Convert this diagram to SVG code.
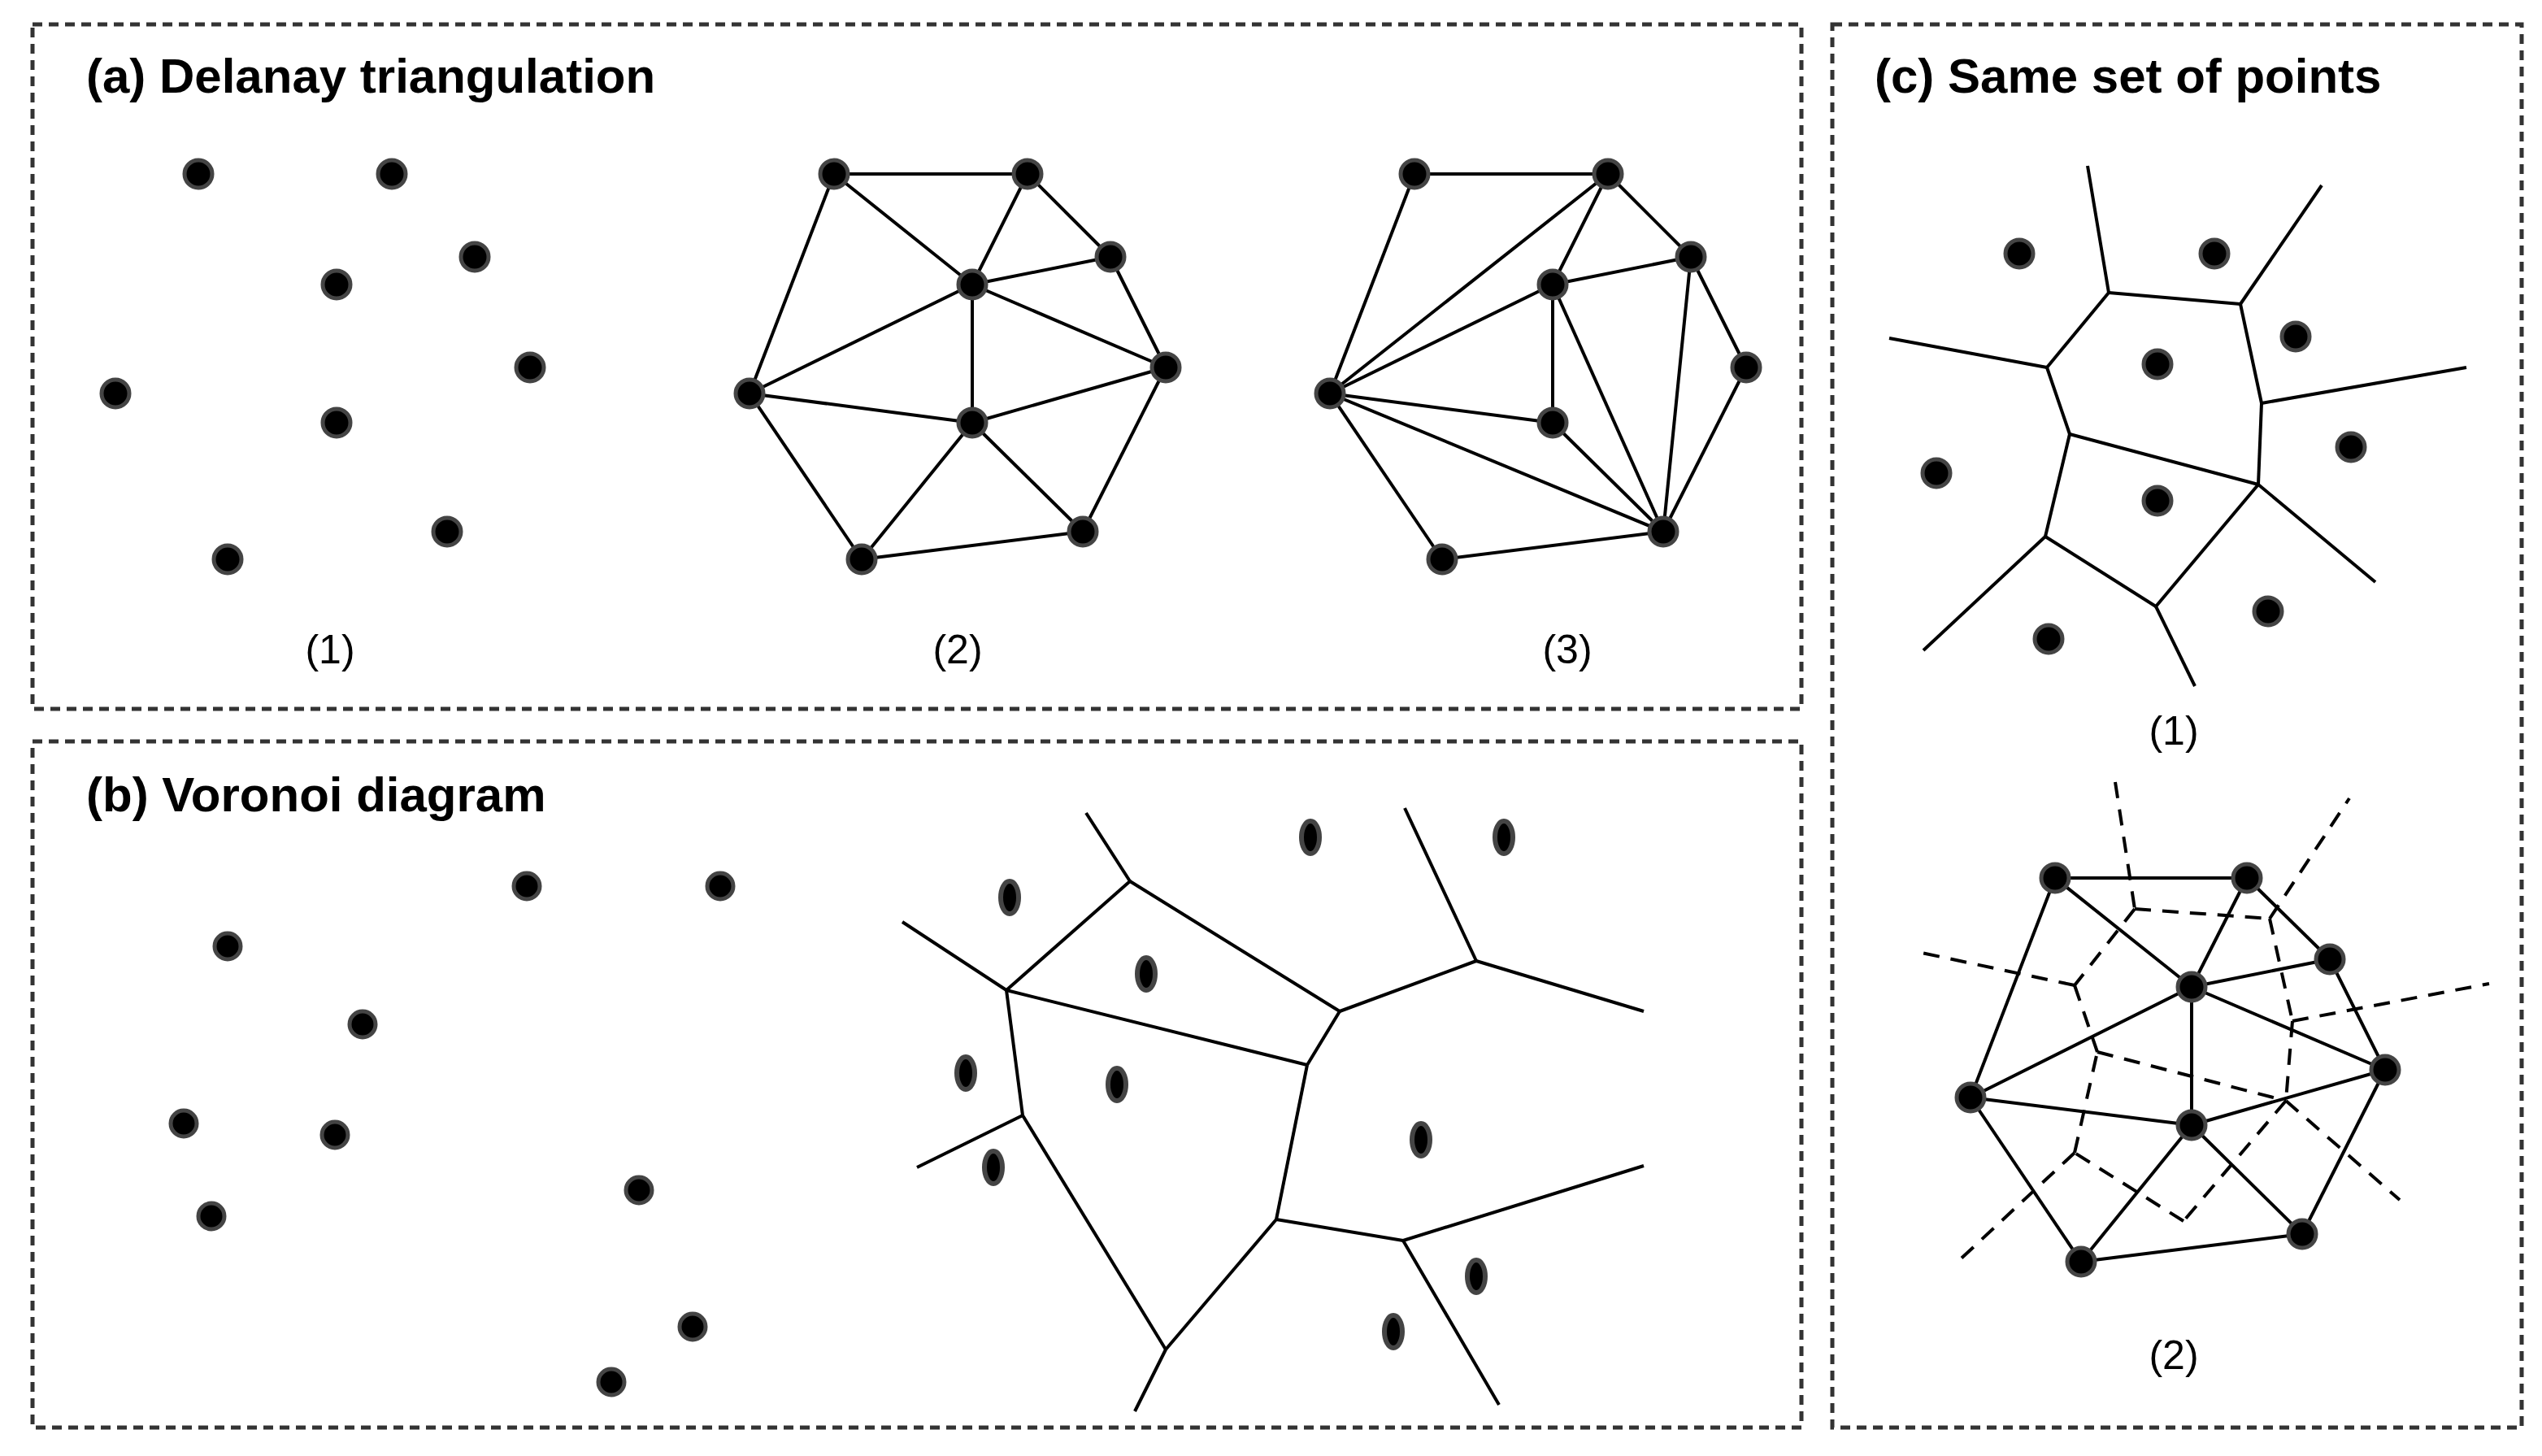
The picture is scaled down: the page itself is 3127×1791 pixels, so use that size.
<svg xmlns="http://www.w3.org/2000/svg" width="3127" height="1791" viewBox="0 0 3127 1791">
<style>
.box{fill:none;stroke:#333;stroke-width:2.5;stroke-dasharray:6 4}
.t{font-family:"Liberation Sans",Arial,sans-serif;font-weight:bold;font-size:30px;fill:#000}
.l{font-family:"Liberation Sans",Arial,sans-serif;font-size:25px;fill:#000;text-anchor:middle}
.e line{stroke:#000;stroke-width:2;fill:none}
.d line{stroke:#000;stroke-width:2;stroke-dasharray:10 7}
.p circle{fill:#000;stroke:#444;stroke-width:2.5}
.p ellipse{fill:#000;stroke:#444;stroke-width:3}
</style>
<rect width="3127" height="1791" fill="#fff"/>
<g transform="scale(2)">
<g id="panel-a">
<rect class="box" x="20" y="15" width="1088" height="421"/>
<text class="t" x="53" y="57">(a) Delanay triangulation</text>
<text class="l" x="203" y="408">(1)</text>
<text class="l" x="589" y="408">(2)</text>
<text class="l" x="964" y="408">(3)</text>
</g>
<g id="panel-b">
<rect class="box" x="20" y="456" width="1088" height="422"/>
<text class="t" x="53" y="499">(b) Voronoi diagram</text>
</g>
<g id="panel-c">
<rect class="box" x="1127" y="15" width="424" height="863"/>
<text class="t" x="1153" y="57">(c) Same set of points</text>
<text class="l" x="1337" y="458">(1)</text>
<text class="l" x="1337" y="842">(2)</text>
</g>
<g id="connectors">
<g class="e">
<line x1="513" y1="107" x2="632" y2="107"/><line x1="513" y1="107" x2="461" y2="242"/><line x1="513" y1="107" x2="598" y2="175"/>
<line x1="632" y1="107" x2="598" y2="175"/><line x1="632" y1="107" x2="683" y2="158"/><line x1="598" y1="175" x2="683" y2="158"/>
<line x1="683" y1="158" x2="717" y2="226"/><line x1="598" y1="175" x2="717" y2="226"/><line x1="598" y1="175" x2="461" y2="242"/>
<line x1="598" y1="175" x2="598" y2="260"/><line x1="461" y1="242" x2="598" y2="260"/><line x1="598" y1="260" x2="717" y2="226"/>
<line x1="717" y1="226" x2="666" y2="327"/><line x1="598" y1="260" x2="666" y2="327"/><line x1="598" y1="260" x2="530" y2="344"/>
<line x1="461" y1="242" x2="530" y2="344"/><line x1="530" y1="344" x2="666" y2="327"/>
<line x1="870" y1="107" x2="989" y2="107"/><line x1="870" y1="107" x2="818" y2="242"/><line x1="989" y1="107" x2="818" y2="242"/>
<line x1="989" y1="107" x2="955" y2="175"/><line x1="989" y1="107" x2="1040" y2="158"/><line x1="955" y1="175" x2="1040" y2="158"/>
<line x1="955" y1="175" x2="818" y2="242"/><line x1="955" y1="175" x2="955" y2="260"/><line x1="955" y1="175" x2="1023" y2="327"/>
<line x1="1040" y1="158" x2="1023" y2="327"/><line x1="1040" y1="158" x2="1074" y2="226"/><line x1="1074" y1="226" x2="1023" y2="327"/>
<line x1="818" y1="242" x2="955" y2="260"/><line x1="955" y1="260" x2="1023" y2="327"/><line x1="818" y1="242" x2="1023" y2="327"/>
<line x1="818" y1="242" x2="887" y2="344"/><line x1="887" y1="344" x2="1023" y2="327"/>
<line x1="695" y1="542" x2="668" y2="500"/><line x1="695" y1="542" x2="619" y2="609"/><line x1="695" y1="542" x2="824" y2="622"/>
<line x1="619" y1="609" x2="555" y2="567"/><line x1="619" y1="609" x2="804" y2="655"/><line x1="619" y1="609" x2="629" y2="686"/>
<line x1="824" y1="622" x2="804" y2="655"/><line x1="824" y1="622" x2="908" y2="591"/><line x1="908" y1="591" x2="864" y2="497"/>
<line x1="908" y1="591" x2="1011" y2="622"/><line x1="804" y1="655" x2="785" y2="750"/><line x1="629" y1="686" x2="564" y2="718"/>
<line x1="629" y1="686" x2="717" y2="830"/><line x1="785" y1="750" x2="717" y2="830"/><line x1="785" y1="750" x2="863" y2="763"/>
<line x1="863" y1="763" x2="1011" y2="717"/><line x1="863" y1="763" x2="922" y2="864"/><line x1="717" y1="830" x2="698" y2="868"/>
<line x1="1284" y1="102" x2="1297" y2="180"/><line x1="1297" y1="180" x2="1378" y2="187"/><line x1="1378" y1="187" x2="1428" y2="114"/>
<line x1="1378" y1="187" x2="1391" y2="248"/><line x1="1391" y1="248" x2="1517" y2="226"/><line x1="1391" y1="248" x2="1389" y2="298"/>
<line x1="1297" y1="180" x2="1259" y2="226"/><line x1="1162" y1="208" x2="1259" y2="226"/><line x1="1259" y1="226" x2="1273" y2="267"/>
<line x1="1273" y1="267" x2="1389" y2="298"/><line x1="1273" y1="267" x2="1258" y2="330"/><line x1="1258" y1="330" x2="1183" y2="400"/>
<line x1="1258" y1="330" x2="1326" y2="373"/><line x1="1326" y1="373" x2="1389" y2="298"/><line x1="1326" y1="373" x2="1350" y2="422"/>
<line x1="1389" y1="298" x2="1461" y2="358"/>
<line x1="1264" y1="540" x2="1382" y2="540"/><line x1="1264" y1="540" x2="1212" y2="675"/><line x1="1264" y1="540" x2="1348" y2="607"/>
<line x1="1382" y1="540" x2="1348" y2="607"/><line x1="1382" y1="540" x2="1433" y2="590"/><line x1="1348" y1="607" x2="1433" y2="590"/>
<line x1="1433" y1="590" x2="1467" y2="658"/><line x1="1348" y1="607" x2="1467" y2="658"/><line x1="1348" y1="607" x2="1212" y2="675"/>
<line x1="1348" y1="607" x2="1348" y2="692"/><line x1="1212" y1="675" x2="1348" y2="692"/><line x1="1348" y1="692" x2="1467" y2="658"/>
<line x1="1467" y1="658" x2="1416" y2="759"/><line x1="1348" y1="692" x2="1416" y2="759"/><line x1="1348" y1="692" x2="1280" y2="776"/>
<line x1="1212" y1="675" x2="1280" y2="776"/><line x1="1280" y1="776" x2="1416" y2="759"/>
</g>
<g class="d">
<line x1="1301" y1="481" x2="1313" y2="559"/><line x1="1313" y1="559" x2="1396" y2="565"/><line x1="1396" y1="565" x2="1445" y2="491"/>
<line x1="1313" y1="559" x2="1276" y2="606"/><line x1="1276" y1="606" x2="1182" y2="586"/><line x1="1276" y1="606" x2="1290" y2="647"/>
<line x1="1290" y1="647" x2="1406" y2="677"/><line x1="1406" y1="677" x2="1476" y2="738"/><line x1="1406" y1="677" x2="1343" y2="751"/>
<line x1="1343" y1="751" x2="1276" y2="709"/><line x1="1276" y1="709" x2="1290" y2="647"/><line x1="1276" y1="709" x2="1202" y2="778"/>
<line x1="1396" y1="565" x2="1410" y2="628"/><line x1="1410" y1="628" x2="1406" y2="677"/><line x1="1410" y1="628" x2="1531" y2="605"/>
</g>
</g>
<g id="points-a1" class="p">
<circle cx="122" cy="107" r="8.5"/><circle cx="241" cy="107" r="8.5"/><circle cx="207" cy="175" r="8.5"/><circle cx="292" cy="158" r="8.5"/>
<circle cx="71" cy="242" r="8.5"/><circle cx="326" cy="226" r="8.5"/><circle cx="207" cy="260" r="8.5"/><circle cx="275" cy="327" r="8.5"/><circle cx="140" cy="344" r="8.5"/>
</g>
<g id="points-a2" class="p">
<circle cx="513" cy="107" r="8.5"/><circle cx="632" cy="107" r="8.5"/><circle cx="598" cy="175" r="8.5"/><circle cx="683" cy="158" r="8.5"/>
<circle cx="461" cy="242" r="8.5"/><circle cx="717" cy="226" r="8.5"/><circle cx="598" cy="260" r="8.5"/><circle cx="666" cy="327" r="8.5"/><circle cx="530" cy="344" r="8.5"/>
</g>
<g id="points-a3" class="p">
<circle cx="870" cy="107" r="8.5"/><circle cx="989" cy="107" r="8.5"/><circle cx="955" cy="175" r="8.5"/><circle cx="1040" cy="158" r="8.5"/>
<circle cx="818" cy="242" r="8.5"/><circle cx="1074" cy="226" r="8.5"/><circle cx="955" cy="260" r="8.5"/><circle cx="1023" cy="327" r="8.5"/><circle cx="887" cy="344" r="8.5"/>
</g>
<g id="points-b1" class="p">
<circle cx="140" cy="582" r="8"/><circle cx="324" cy="545" r="8"/><circle cx="443" cy="545" r="8"/><circle cx="223" cy="630" r="8"/><circle cx="113" cy="691" r="8"/>
<circle cx="206" cy="698" r="8"/><circle cx="130" cy="748" r="8"/><circle cx="393" cy="732" r="8"/><circle cx="426" cy="816" r="8"/><circle cx="376" cy="850" r="8"/>
</g>
<g id="points-b2" class="p">
<ellipse cx="621" cy="552" rx="5.5" ry="10"/><ellipse cx="806" cy="515" rx="5.5" ry="10"/><ellipse cx="925" cy="515" rx="5.5" ry="10"/><ellipse cx="705" cy="599" rx="5.5" ry="10"/><ellipse cx="594" cy="660" rx="5.5" ry="10"/>
<ellipse cx="687" cy="667" rx="5.5" ry="10"/><ellipse cx="611" cy="718" rx="5.5" ry="10"/><ellipse cx="874" cy="701" rx="5.5" ry="10"/><ellipse cx="908" cy="785" rx="5.5" ry="10"/><ellipse cx="857" cy="819" rx="5.5" ry="10"/>
</g>
<g id="points-c1" class="p">
<circle cx="1242" cy="156" r="8.5"/><circle cx="1362" cy="156" r="8.5"/><circle cx="1327" cy="224" r="8.5"/><circle cx="1412" cy="207" r="8.5"/>
<circle cx="1191" cy="291" r="8.5"/><circle cx="1446" cy="275" r="8.5"/><circle cx="1327" cy="308" r="8.5"/><circle cx="1395" cy="376" r="8.5"/><circle cx="1260" cy="393" r="8.5"/>
</g>
<g id="points-c2" class="p">
<circle cx="1264" cy="540" r="8.5"/><circle cx="1382" cy="540" r="8.5"/><circle cx="1348" cy="607" r="8.5"/><circle cx="1433" cy="590" r="8.5"/>
<circle cx="1212" cy="675" r="8.5"/><circle cx="1467" cy="658" r="8.5"/><circle cx="1348" cy="692" r="8.5"/><circle cx="1416" cy="759" r="8.5"/><circle cx="1280" cy="776" r="8.5"/>
</g>
</g>
</svg>
